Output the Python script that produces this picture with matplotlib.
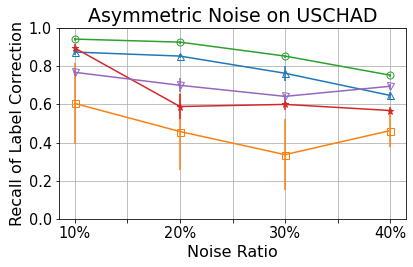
import numpy as np
import matplotlib
matplotlib.use('Agg')
import matplotlib.pyplot as plt

noise = [0.1, 0.2, 0.3, 0.4]

blue = [0.874, 0.853, 0.763, 0.647]
blue_err = [0.015, 0.01, 0.04, 0.02]
orange = [0.605, 0.458, 0.337, 0.463]
orange_err = [0.21, 0.2, 0.185, 0.085]
green = [0.942, 0.926, 0.853, 0.753]
green_err = [0.008, 0.008, 0.008, 0.008]
red = [0.895, 0.589, 0.600, 0.568]
red_err = [0.02, 0.065, 0.027, 0.02]
purple = [0.768, 0.700, 0.642, 0.695]
purple_err = [0.012, 0.037, 0.012, 0.012]

xticks = [0.1, 0.15, 0.2, 0.25, 0.3, 0.35, 0.4]
xticklabels = ['10%', '', '20%', '', '30%', '', '40%']

# rendered at 72 dpi, so 1pt = 1px
fig, ax = plt.subplots(figsize=(413 / 72, 267 / 72), dpi=72)

ax.errorbar(noise, blue, yerr=blue_err, color='tab:blue', marker='^', mfc='none', ms=7)
ax.errorbar(noise, orange, yerr=orange_err, color='tab:orange', marker='s', mfc='none', ms=7)
ax.errorbar(noise, green, yerr=green_err, color='tab:green', marker='o', mfc='none', ms=7)
ax.errorbar(noise, red, yerr=red_err, color='tab:red', marker='*', ms=7)
ax.errorbar(noise, purple, yerr=purple_err, color='tab:purple', marker='v', mfc='none', ms=7)

ax.set_ylim(0, 1.0)
ax.set_xticks(xticks)
ax.set_xticklabels(xticklabels)
ax.tick_params(labelsize=14.5)
ax.set_xlabel('Noise Ratio', fontsize=16)
ax.set_ylabel('Recall of Label Correction', fontsize=16)
ax.set_title('Asymmetric Noise on USCHAD', fontsize=19)
ax.grid(True)

fig.subplots_adjust(left=59 / 413, right=406 / 413, top=1 - 28 / 267, bottom=1 - 219 / 267)
plt.savefig('out.png')
